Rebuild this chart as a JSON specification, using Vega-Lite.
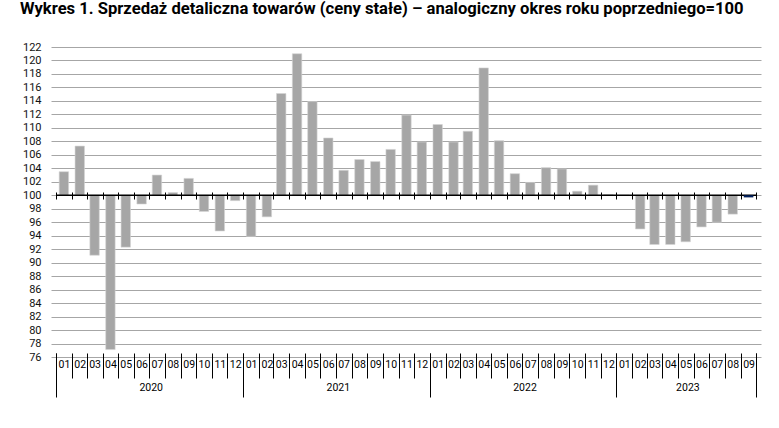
{
  "$schema": "https://vega.github.io/schema/vega-lite/v6.json",
  "autosize": {"type": "none"},
  "width": 710,
  "height": 310,
  "padding": {"left": 51, "top": 47, "right": 18, "bottom": 71},
  "background": "white",
  "title": {
    "text": "Wykres 1. Sprzedaż detaliczna towarów (ceny stałe) – analogiczny okres roku poprzedniego=100",
    "anchor": "start",
    "frame": "group",
    "dx": -31,
    "offset": 23,
    "fontSize": 16.6,
    "font": "Roboto",
    "fontWeight": "bold",
    "color": "#000000"
  },
  "config": {
    "view": {"stroke": null},
    "axis": {"labelFont": "Roboto", "labelColor": "#111111"}
  },
  "data": {
    "values": [
      {"date": "2020/01/01", "value": 103.5},
      {"date": "2020/02/01", "value": 107.3},
      {"date": "2020/03/01", "value": 91.1},
      {"date": "2020/04/01", "value": 77.1},
      {"date": "2020/05/01", "value": 92.3},
      {"date": "2020/06/01", "value": 98.7},
      {"date": "2020/07/01", "value": 103.0},
      {"date": "2020/08/01", "value": 100.4},
      {"date": "2020/09/01", "value": 102.5},
      {"date": "2020/10/01", "value": 97.6},
      {"date": "2020/11/01", "value": 94.7},
      {"date": "2020/12/01", "value": 99.2},
      {"date": "2021/01/01", "value": 93.9},
      {"date": "2021/02/01", "value": 96.8},
      {"date": "2021/03/01", "value": 115.1},
      {"date": "2021/04/01", "value": 121.0},
      {"date": "2021/05/01", "value": 113.9},
      {"date": "2021/06/01", "value": 108.5},
      {"date": "2021/07/01", "value": 103.7},
      {"date": "2021/08/01", "value": 105.3},
      {"date": "2021/09/01", "value": 105.0},
      {"date": "2021/10/01", "value": 106.8},
      {"date": "2021/11/01", "value": 111.9},
      {"date": "2021/12/01", "value": 107.9},
      {"date": "2022/01/01", "value": 110.5},
      {"date": "2022/02/01", "value": 107.9},
      {"date": "2022/03/01", "value": 109.5},
      {"date": "2022/04/01", "value": 118.9},
      {"date": "2022/05/01", "value": 108.1},
      {"date": "2022/06/01", "value": 103.2},
      {"date": "2022/07/01", "value": 101.9},
      {"date": "2022/08/01", "value": 104.1},
      {"date": "2022/09/01", "value": 103.9},
      {"date": "2022/10/01", "value": 100.6},
      {"date": "2022/11/01", "value": 101.5},
      {"date": "2022/12/01", "value": 100.1},
      {"date": "2023/01/01", "value": 100.0},
      {"date": "2023/02/01", "value": 95.0},
      {"date": "2023/03/01", "value": 92.7},
      {"date": "2023/04/01", "value": 92.7},
      {"date": "2023/05/01", "value": 93.1},
      {"date": "2023/06/01", "value": 95.3},
      {"date": "2023/07/01", "value": 96.0},
      {"date": "2023/08/01", "value": 97.2},
      {"date": "2023/09/01", "value": 99.7}
    ]
  },
  "resolve": {"axis": {"x": "independent"}},
  "layer": [
    {
      "mark": {"type": "bar", "width": 9.4, "xOffset": 7.9, "color": "#a6a6a6", "stroke": "#d4d4d4", "strokeWidth": 0.6},
      "encoding": {
        "x": {
          "field": "date",
          "type": "temporal",
          "title": null,
          "scale": {"domain": [{"year": 2020, "month": 1, "date": 1}, {"year": 2023, "month": 10, "date": 1}], "nice": false},
          "axis": {
            "orient": "bottom",
            "offset": -4,
            "tickCount": {"interval": "month", "step": 1},
            "labelExpr": "(year(datum.value) == 2023 && month(datum.value) == 9) ? '' : timeFormat(datum.value, '%m')",
            "tickSize": 25,
            "tickColor": "#000000",
            "tickWidth": 1,
            "domain": false,
            "grid": false,
            "labelPadding": -14,
            "labelBaseline": "middle",
            "labelAlign": "center",
            "labelOffset": 7.9,
            "labelOverlap": false,
            "labelFlush": false,
            "labelBound": false,
            "labelFontSize": 10.5,
            "labelColor": "#000000",
            "title": null
          }
        },
        "y": {
          "field": "value",
          "type": "quantitative",
          "scale": {"domain": [76, 122], "nice": false, "zero": false},
          "axis": {
            "values": [76, 78, 80, 82, 84, 86, 88, 90, 92, 94, 96, 98, 100, 102, 104, 106, 108, 110, 112, 114, 116, 118, 120, 122],
            "title": null,
            "grid": true,
            "gridColor": "#a6a6a6",
            "gridWidth": 1,
            "domain": false,
            "ticks": false,
            "labelPadding": 10,
            "labelFontSize": 11
          }
        },
        "y2": {"datum": 100}
      }
    },
    {
      "data": {"values": [{"baseline": 100}]},
      "mark": {"type": "rule", "color": "#000000", "strokeWidth": 1.5},
      "encoding": {
        "x": {
          "datum": {"year": 2020, "month": 1, "date": 1},
          "type": "temporal",
          "axis": {
            "orient": "bottom",
            "offset": -165,
            "tickCount": {"interval": "month", "step": 1},
            "tickSize": 7,
            "tickColor": "#000000",
            "tickWidth": 1,
            "domain": false,
            "labels": false,
            "grid": false,
            "title": null
          }
        },
        "x2": {"datum": {"year": 2023, "month": 10, "date": 1}},
        "y": {
          "field": "baseline",
          "type": "quantitative",
          "axis": {
            "values": [76, 78, 80, 82, 84, 86, 88, 90, 92, 94, 96, 98, 100, 102, 104, 106, 108, 110, 112, 114, 116, 118, 120, 122],
            "title": null,
            "grid": true,
            "gridColor": "#a6a6a6",
            "gridWidth": 1,
            "domain": false,
            "ticks": false,
            "labelPadding": 10,
            "labelFontSize": 11
          }
        }
      }
    },
    {
      "transform": [{"filter": {"field": "date", "timeUnit": "yearmonth", "equal": {"year": 2023, "month": 9}}}],
      "mark": {"type": "bar", "width": 9.4, "xOffset": 7.9, "color": "#002060"},
      "encoding": {
        "x": {
          "field": "date",
          "type": "temporal",
          "title": null,
          "axis": {
            "orient": "bottom",
            "offset": -4,
            "values": [
              {"year": 2020, "month": 1, "date": 1},
              {"year": 2021, "month": 1, "date": 1},
              {"year": 2022, "month": 1, "date": 1},
              {"year": 2023, "month": 1, "date": 1},
              {"year": 2023, "month": 10, "date": 1}
            ],
            "labelExpr": "(month(datum.value) == 9) ? '' : timeFormat(datum.value, '%Y')",
            "tickSize": 44,
            "tickColor": "#000000",
            "tickWidth": 1,
            "domain": false,
            "grid": false,
            "labelOffset": {"condition": {"test": "year(datum.value) == 2023", "value": 71}, "value": 94.7},
            "labelPadding": -9.3,
            "labelBaseline": "middle",
            "labelAlign": "center",
            "labelOverlap": false,
            "labelFlush": false,
            "labelBound": false,
            "labelFontSize": 10.5,
            "labelColor": "#000000",
            "title": null
          }
        },
        "y": {
          "field": "value",
          "type": "quantitative",
          "axis": {
            "values": [76, 78, 80, 82, 84, 86, 88, 90, 92, 94, 96, 98, 100, 102, 104, 106, 108, 110, 112, 114, 116, 118, 120, 122],
            "title": null,
            "grid": true,
            "gridColor": "#a6a6a6",
            "gridWidth": 1,
            "domain": false,
            "ticks": false,
            "labelPadding": 10,
            "labelFontSize": 11
          }
        },
        "y2": {"datum": 100}
      }
    }
  ]
}
